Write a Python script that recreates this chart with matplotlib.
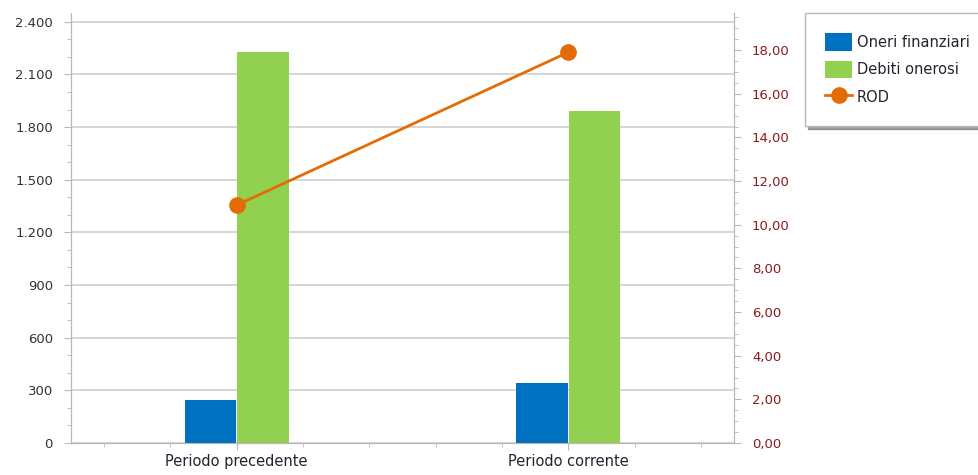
import matplotlib.pyplot as plt
from matplotlib.ticker import MultipleLocator, FuncFormatter
import numpy as np

categories = ["Periodo precedente", "Periodo corrente"]
oneri_finanziari = [245, 342]
debiti_onerosi = [2225, 1889]
rod = [10.9, 17.9]

blue = "#0070C0"
green = "#92D050"
orange = "#E36C09"
grid_gray = "#D0D0D0"
axis_gray = "#B8B8B8"

fig = plt.figure(figsize=(9.79, 4.75), dpi=100)
ax = fig.add_axes([71 / 979, 32 / 475, 663 / 979, 430 / 475])
ax2 = ax.twinx()

x = np.arange(len(categories))
w = 0.155
ax.bar(x - w / 2 - 0.002, oneri_finanziari, w, color=blue, label="Oneri finanziari", zorder=3)
ax.bar(x + w / 2 + 0.002, debiti_onerosi, w, color=green, label="Debiti onerosi", zorder=3)
ax2.plot(x, rod, color=orange, lw=2, marker="o", ms=11, label="ROD", zorder=4)

ax.set_xlim(-0.5, 1.5)
ax.set_ylim(0, 2450)
ax2.set_ylim(0, 19.7)

ax.set_xticks(x)
ax.set_xticklabels(categories)
ax.xaxis.set_minor_locator(MultipleLocator(0.2))
ax.yaxis.set_major_locator(MultipleLocator(300))
ax.yaxis.set_minor_locator(MultipleLocator(100))
ax.yaxis.set_major_formatter(FuncFormatter(lambda v, p: f"{int(v):,}".replace(",", ".")))
ax2.yaxis.set_major_locator(MultipleLocator(2))
ax2.yaxis.set_minor_locator(MultipleLocator(0.5))
ax2.yaxis.set_major_formatter(FuncFormatter(lambda v, p: f"{v:.2f}".replace(".", ",")))

ax.grid(axis="y", color=grid_gray, lw=1.2, zorder=0)
ax.set_axisbelow(True)

for a in (ax, ax2):
    a.spines["top"].set_visible(False)
    for s in ("left", "right", "bottom"):
        a.spines[s].set_color(axis_gray)
    a.tick_params(which="both", color=axis_gray)
    a.tick_params(which="major", length=5)
    a.tick_params(which="minor", length=3)

ax.tick_params(axis="y", labelsize=9.5, labelcolor="#333333", pad=8)
ax.tick_params(axis="x", labelsize=10.5, labelcolor="#2a2030", pad=3)
ax2.tick_params(axis="y", labelsize=9.5, labelcolor="#8B1A1A", pad=8)
ax.set_zorder(ax2.get_zorder() - 1)
ax.patch.set_visible(True)
ax2.patch.set_visible(False)

h1, l1 = ax.get_legend_handles_labels()
h2, l2 = ax2.get_legend_handles_labels()
leg = fig.legend(h1 + h2, l1 + l2, loc="upper left", bbox_to_anchor=(805 / 979, 1 - 13 / 475),
                 fontsize=10.5, frameon=True, fancybox=False, shadow=True,
                 borderpad=1.4, labelspacing=0.65, handlelength=1.8, handleheight=1.5,
                 handletextpad=0.35, borderaxespad=0)
leg.get_frame().set_edgecolor(axis_gray)
leg.get_frame().set_linewidth(1)
for t in leg.get_texts():
    t.set_color("#2a2030")

fig.savefig("out.png", dpi=100)
